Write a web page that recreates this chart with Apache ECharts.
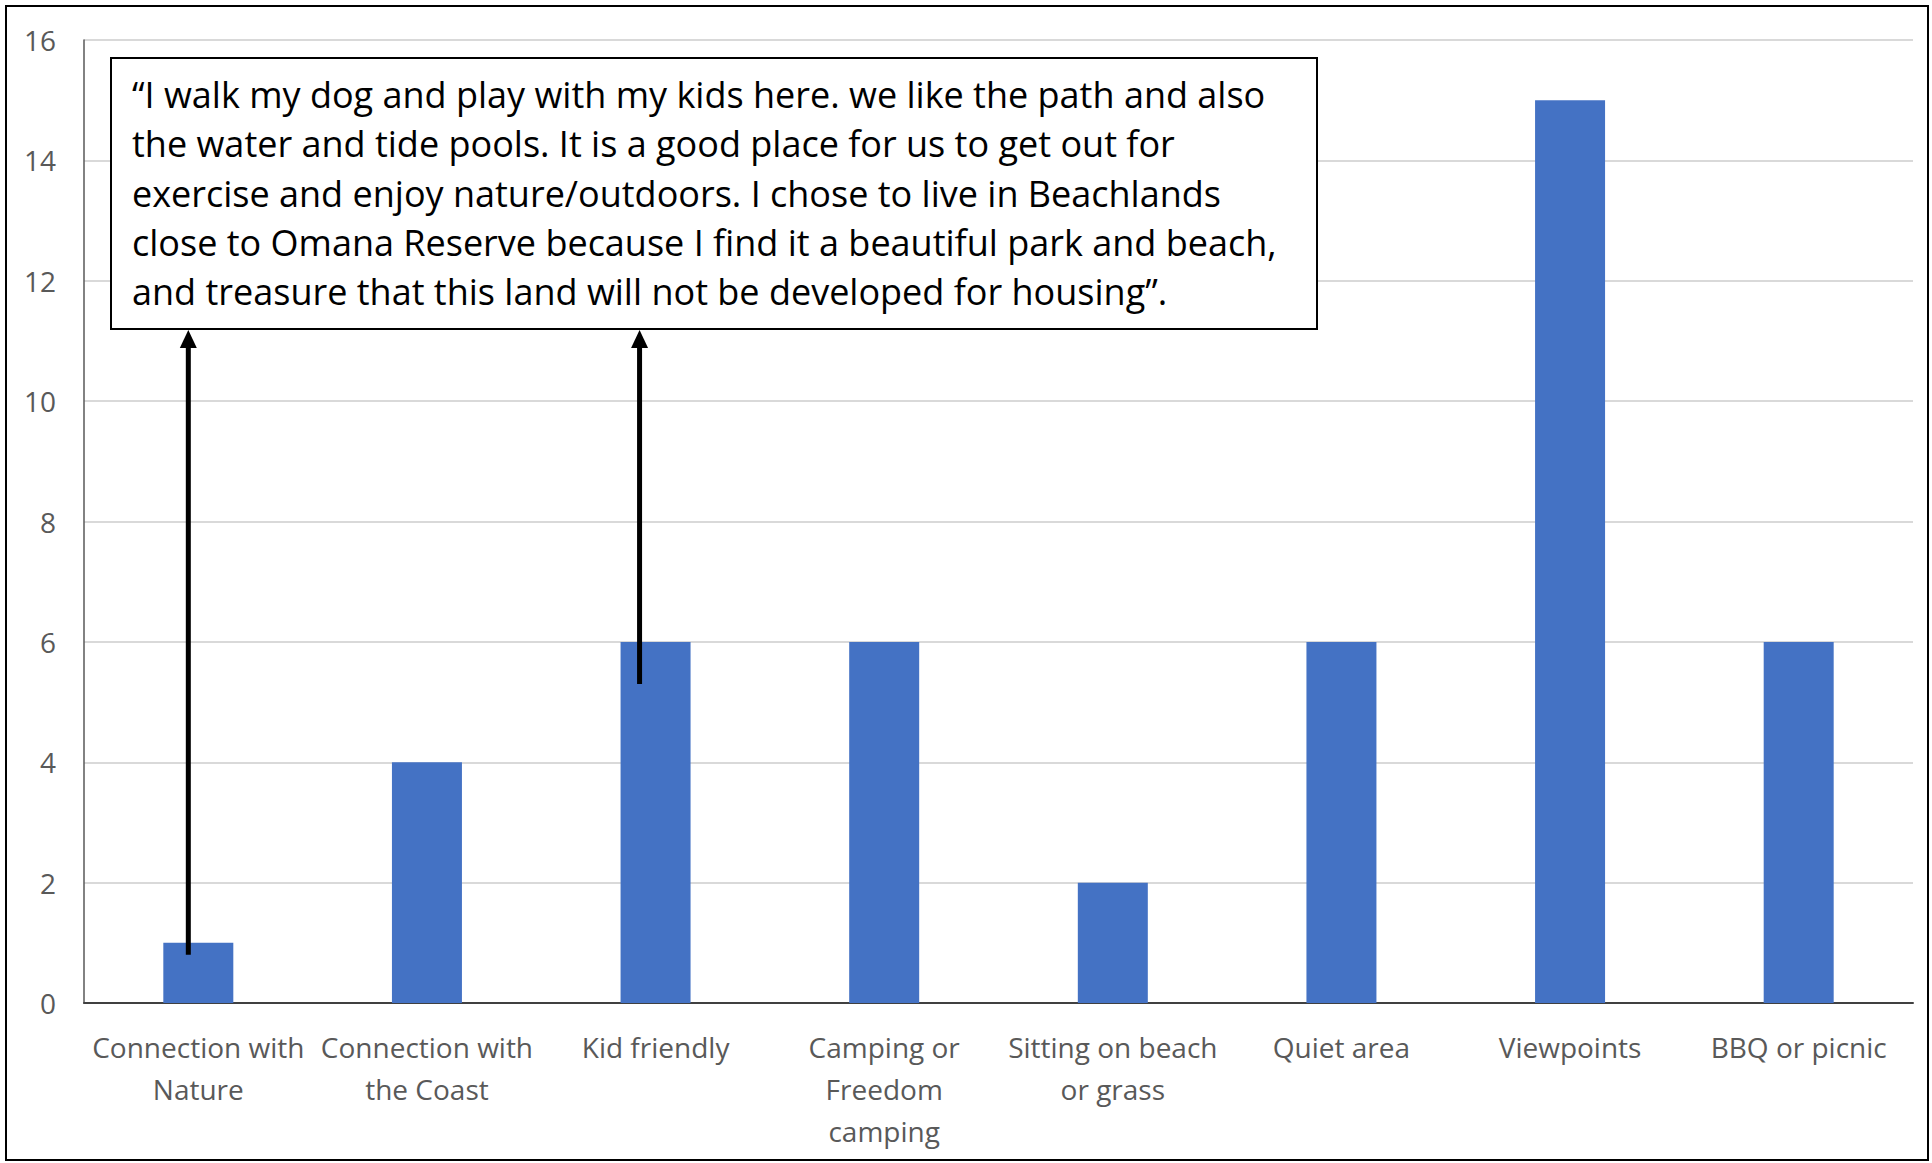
<!DOCTYPE html>
<html>
<head>
<meta charset="utf-8">
<script src="https://cdn.jsdelivr.net/npm/echarts@6/dist/echarts.min.js"></script>
<style>
html,body{margin:0;padding:0;background:#fff;}
#chart{width:1932px;height:1163px;}
</style>
</head>
<body>
<div id="chart"></div>
<script>
const categories = [
  'Connection with\nNature',
  'Connection with\nthe Coast',
  'Kid friendly',
  'Camping or\nFreedom\ncamping',
  'Sitting on beach\nor grass',
  'Quiet area',
  'Viewpoints',
  'BBQ or picnic'
];
const values = [1, 4, 6, 6, 2, 6, 15, 6];
const yMin = 0, yMax = 16, yInterval = 2;

const quoteLines = [
  '\u201CI walk my dog and play with my kids here. we like the path and also',
  'the water and tide pools. It is a good place for us to get out for',
  'exercise and enjoy nature/outdoors. I chose to live in Beachlands',
  'close to Omana Reserve because I find it a beautiful park and beach,',
  'and treasure that this land will not be developed for housing\u201D.'
];
// arrows: category index they rise from and the value where they start
const arrowCats = [0, 2];
const arrowStartValues = [0.8, 5.3];

const chart = echarts.init(document.getElementById('chart'), null, {renderer: 'svg'});
const labelFont = '"Open Sans", "Noto Sans", sans-serif';
chart.setOption({
  animation: false,
  backgroundColor: '#ffffff',
  grid: {left: 84, right: 19, top: 40, bottom: 160, containLabel: false},
  xAxis: {
    type: 'category',
    data: categories,
    axisLine: {show: true, lineStyle: {color: '#404040', width: 2}},
    axisTick: {show: false},
    axisLabel: {
      interval: 0, color: '#595959', fontFamily: labelFont, fontSize: 28,
      lineHeight: 42, margin: 23
    }
  },
  yAxis: {
    type: 'value', min: yMin, max: yMax, interval: yInterval,
    axisLine: {show: true, lineStyle: {color: '#595959', width: 1.5}},
    axisTick: {show: false},
    splitLine: {show: true, lineStyle: {color: '#D9D9D9', width: 2}},
    axisLabel: {color: '#595959', fontFamily: labelFont, fontSize: 28, margin: 28}
  },
  series: [{
    type: 'bar',
    data: values,
    barWidth: 70,
    itemStyle: {color: '#4472C4'}
  }]
});

const boxX = 111, boxY = 58, boxW = 1206, boxH = 271;
const boxBottom = boxY + boxH;
const graphics = [
  {type: 'rect', shape: {x: 6, y: 6, width: 1922, height: 1154}, style: {fill: 'none', stroke: '#000', lineWidth: 2}, z: 100},
  {type: 'rect', shape: {x: boxX, y: boxY, width: boxW, height: boxH}, style: {fill: '#fff', stroke: '#000', lineWidth: 2}, z: 100},
  {type: 'text', x: 132, y: 70, z: 101, style: {
    text: quoteLines.join('\n'), fill: '#000', font: '36px "Open Sans", "Noto Sans", sans-serif',
    lineHeight: 49.3, verticalAlign: 'top', align: 'left'
  }}
];
const offsets = [-10, -16];
arrowCats.forEach(function (c, i) {
  const p = chart.convertToPixel({seriesIndex: 0}, [c, arrowStartValues[i]]);
  const x = p[0] + offsets[i];
  graphics.push({type: 'line', z: 102, shape: {x1: x, y1: p[1], x2: x, y2: boxBottom + 16}, style: {stroke: '#000', lineWidth: 5}});
  graphics.push({type: 'polygon', z: 102, shape: {points: [[x - 8.5, boxBottom + 19], [x + 8.5, boxBottom + 19], [x, boxBottom + 1]]}, style: {fill: '#000'}});
});
chart.setOption({graphic: graphics});
</script>
</body>
</html>
